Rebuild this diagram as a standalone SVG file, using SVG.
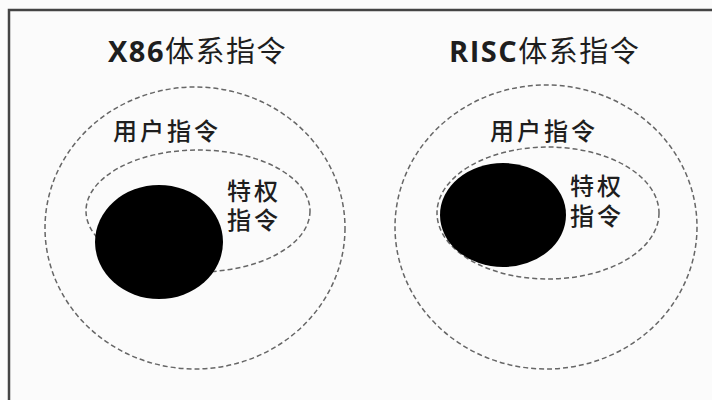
<svg xmlns="http://www.w3.org/2000/svg" width="712" height="400" viewBox="0 0 712 400">
<style>
.dash{fill:none;stroke:#666;stroke-width:1.5;stroke-dasharray:5 3}
.blob{fill:#000}
.t{font-family:"Noto Sans CJK SC","Noto Sans",sans-serif;fill:#1e1e1e}
.title{font-size:29px;letter-spacing:1.5px}
.lat{font-family:"Open Sans","Noto Sans",sans-serif;font-weight:bold}
.lbl{font-size:24px;font-weight:500;letter-spacing:3px}
.lbl2{font-family:"Liberation Sans","Noto Sans CJK SC",sans-serif}
</style>
<rect width="712" height="400" fill="#fbfbfb"/>
<g id="frame"><path d="M9 400 V10 H712" fill="none" stroke="#444" stroke-width="2.5"/></g>
<g id="x86">
<text class="t title" x="108" y="62"><tspan class="lat">X86</tspan>体系指令</text>
<ellipse id="x86-user" class="dash" cx="195" cy="228" rx="150" ry="141"/>
<ellipse id="x86-priv" class="dash" cx="198" cy="211" rx="112" ry="61"/>
<ellipse id="x86-core" class="blob" cx="159" cy="242" rx="64" ry="57"/>
<text class="t lbl" x="113" y="140">用户指令</text>
<text class="t lbl lbl2" x="227" y="200">特权</text>
<text class="t lbl lbl2" x="227" y="229">指令</text>
</g>
<g id="risc">
<text class="t title" x="449" y="62"><tspan class="lat">RISC</tspan>体系指令</text>
<ellipse id="risc-user" class="dash" cx="546" cy="227" rx="151" ry="142"/>
<ellipse id="risc-priv" class="dash" cx="548" cy="213" rx="111" ry="66"/>
<ellipse id="risc-core" class="blob" cx="503" cy="215" rx="63" ry="52"/>
<text class="t lbl" x="490" y="140">用户指令</text>
<text class="t lbl lbl2" x="570" y="195">特权</text>
<text class="t lbl lbl2" x="570" y="225">指令</text>
</g>
</svg>
